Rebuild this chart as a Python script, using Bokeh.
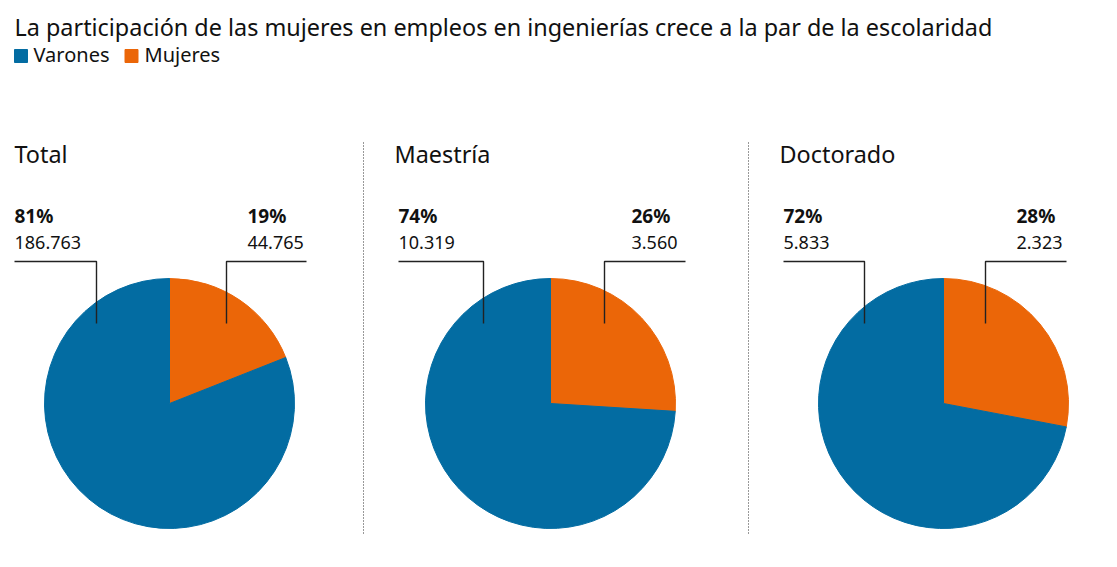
import math
from bokeh.plotting import figure
from bokeh.models import Range1d, ColumnDataSource
from bokeh.core.properties import value
from bokeh.embed import file_html
from bokeh.resources import INLINE

# ---------------- data ----------------
title_text = "La participación de las mujeres en empleos en ingenierías crece a la par de la escolaridad"
series_names = ["Varones", "Mujeres"]
series_colors = ["#036ca2", "#eb6608"]
categories = ["Total", "Maestría", "Doctorado"]
varones = [186763, 10319, 5833]
mujeres = [44765, 3560, 2323]
pct_varones = [81, 74, 72]
pct_mujeres = [19, 26, 28]

# ---------------- layout (page pixels) ----------------
W, H = 1100, 550
FONT = "Noto Sans"
TXT = "#111111"


def X(sx):
    return sx


def Y(sy):
    return H - sy


def TY(baseline, size):
    # compensate the renderer's baseline placement
    return Y(baseline - 0.39 * size)


centers_x = [169, 550, 943]
center_y = 403
R = 125
panel_title_x = [14, 394, 779]
left_label_x = [14, 398, 783]
right_label_x = [247, 631, 1016]
left_vline_x = [96, 483, 864]
right_vline_x = [226, 604, 985]
right_line_end = [306, 685, 1066]
hline_y = 261
vline_bottom = 323
sep_x = [363, 748]


def fmt(n):
    return f"{n:,}".replace(",", ".")


p = figure(width=W, height=H, x_range=Range1d(0, W), y_range=Range1d(0, H),
           output_backend="svg", toolbar_location=None, min_border=0)
p.axis.visible = False
p.grid.visible = False
p.outline_line_color = None
p.background_fill_color = "white"
p.border_fill_color = "white"

# ---------------- pies ----------------
full = 2 * math.pi
top = math.pi / 2
wx, wy, ws, we, wc = [], [], [], [], []
for i in range(len(categories)):
    m = pct_mujeres[i] / 100.0
    v = pct_varones[i] / 100.0
    # mujeres: clockwise from top
    wx.append(X(centers_x[i])); wy.append(Y(center_y))
    ws.append(top - m * full); we.append(top); wc.append(series_colors[1])
    # varones: the rest
    wx.append(X(centers_x[i])); wy.append(Y(center_y))
    ws.append(top - (m + v) * full); we.append(top - m * full); wc.append(series_colors[0])
p.wedge(x="x", y="y", radius=R, start_angle="s", end_angle="e", color="c",
        direction="anticlock",
        source=ColumnDataSource(dict(x=wx, y=wy, s=ws, e=we, c=wc)))

# ---------------- leader lines ----------------
lxs, lys = [], []
for i in range(len(categories)):
    lxs.append([X(left_label_x[i]), X(left_vline_x[i]), X(left_vline_x[i])])
    lys.append([Y(hline_y), Y(hline_y), Y(vline_bottom)])
    lxs.append([X(right_line_end[i]), X(right_vline_x[i]), X(right_vline_x[i])])
    lys.append([Y(hline_y), Y(hline_y), Y(vline_bottom)])
p.multi_line(xs=lxs, ys=lys, line_color="#222222", line_width=1.4)

# ---------------- separators ----------------
p.segment(x0=[X(s) for s in sep_x], y0=[Y(142)] * 2, x1=[X(s) for s in sep_x], y1=[Y(535)] * 2,
          line_color="#333333", line_width=1, line_dash="1 2")

# ---------------- texts ----------------
p.text(x=[X(14)], y=[TY(36, 23.4)], text=[title_text], text_font=value(FONT), text_font_size="23.4px",
       text_color=TXT, text_baseline="alphabetic", text_align="left")

# legend
p.rect(x=[X(20.5), X(131)], y=[Y(55.5)] * 2, width=13, height=13, color=series_colors)
p.text(x=[X(33), X(144)], y=[TY(62, 20)] * 2, text=series_names, text_font=value(FONT),
       text_font_size="20px", text_color=TXT, text_baseline="alphabetic", text_align="left")

# panel titles
p.text(x=[X(x) for x in panel_title_x], y=[TY(163, 23.4)] * 3, text=categories,
       text_font=value(FONT), text_font_size="23.4px", text_color=TXT,
       text_baseline="alphabetic", text_align="left")

# percentages and counts
p.text(x=[X(x) for x in left_label_x], y=[TY(223, 19)] * 3, text=[f"{v}%" for v in pct_varones],
       text_font=value(FONT), text_font_size="19px", text_font_style="bold", text_color=TXT,
       text_baseline="alphabetic", text_align="left")
p.text(x=[X(x) for x in left_label_x], y=[TY(249, 18)] * 3, text=[fmt(v) for v in varones],
       text_font=value(FONT), text_font_size="18px", text_color=TXT,
       text_baseline="alphabetic", text_align="left")
p.text(x=[X(x) for x in right_label_x], y=[TY(223, 19)] * 3, text=[f"{v}%" for v in pct_mujeres],
       text_font=value(FONT), text_font_size="19px", text_font_style="bold", text_color=TXT,
       text_baseline="alphabetic", text_align="left")
p.text(x=[X(x) for x in right_label_x], y=[TY(249, 18)] * 3, text=[fmt(v) for v in mujeres],
       text_font=value(FONT), text_font_size="18px", text_color=TXT,
       text_baseline="alphabetic", text_align="left")

open("out.html", "w").write(file_html(p, INLINE))
